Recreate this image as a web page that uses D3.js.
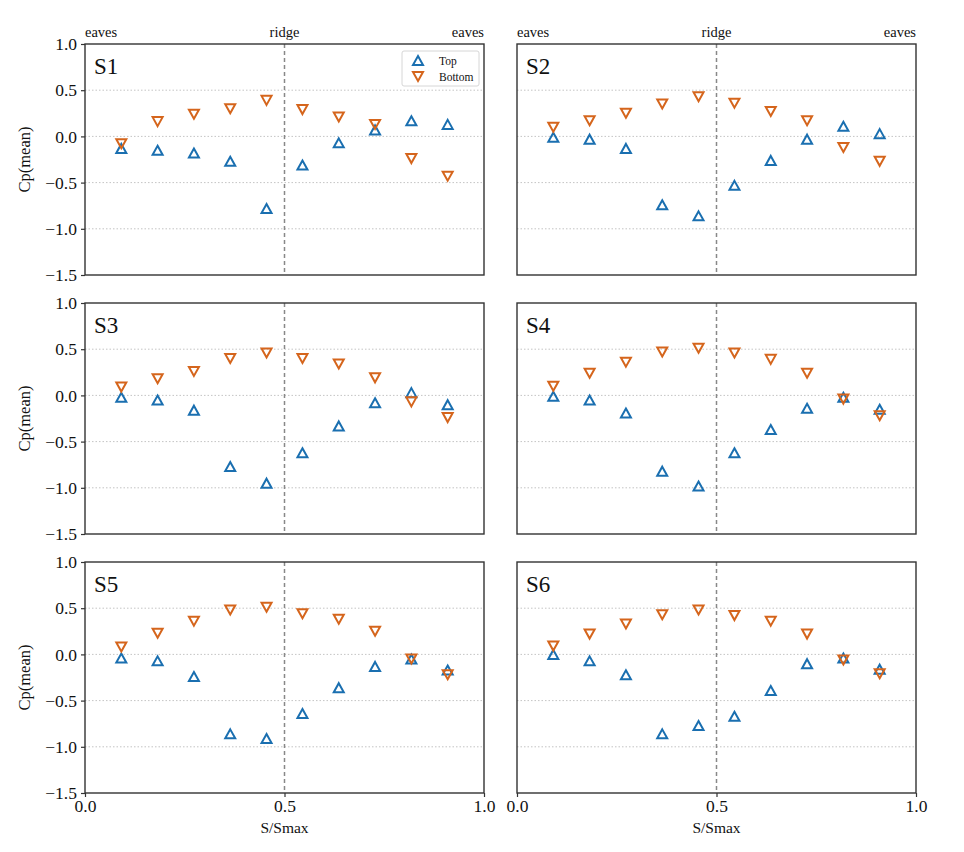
<!DOCTYPE html>
<html>
<head>
<meta charset="utf-8">
<script src="https://cdn.jsdelivr.net/npm/d3@7"></script>
<style>
  body { margin: 0; background: #fff; }
  text { font-family: "Liberation Serif", "DejaVu Serif", serif; fill: #111; }
  .tick text { font-size: 17.5px; }
</style>
</head>
<body>
<script>
// S/Smax positions of the taps
var sPos = [0.091, 0.182, 0.273, 0.364, 0.455, 0.545, 0.636, 0.727, 0.818, 0.909];

var s1Top    = [-0.13, -0.15, -0.18, -0.27, -0.78, -0.31, -0.07, 0.07, 0.17, 0.13];
var s1Bottom = [-0.08, 0.16, 0.24, 0.30, 0.39, 0.29, 0.21, 0.13, -0.24, -0.43];
var s2Top    = [-0.01, -0.03, -0.13, -0.74, -0.86, -0.53, -0.26, -0.03, 0.11, 0.03];
var s2Bottom = [0.10, 0.17, 0.25, 0.35, 0.43, 0.36, 0.27, 0.17, -0.12, -0.27];
var s3Top    = [-0.02, -0.05, -0.16, -0.77, -0.95, -0.62, -0.33, -0.08, 0.03, -0.10];
var s3Bottom = [0.09, 0.18, 0.26, 0.40, 0.46, 0.40, 0.34, 0.19, -0.07, -0.24];
var s4Top    = [-0.01, -0.05, -0.19, -0.82, -0.98, -0.62, -0.37, -0.14, -0.02, -0.15];
var s4Bottom = [0.10, 0.24, 0.36, 0.47, 0.51, 0.46, 0.39, 0.24, -0.04, -0.22];
var s5Top    = [-0.04, -0.07, -0.24, -0.86, -0.91, -0.64, -0.36, -0.13, -0.05, -0.17];
var s5Bottom = [0.08, 0.23, 0.36, 0.48, 0.51, 0.44, 0.38, 0.25, -0.05, -0.22];
var s6Top    = [0.00, -0.07, -0.22, -0.86, -0.77, -0.67, -0.39, -0.10, -0.04, -0.16];
var s6Bottom = [0.09, 0.22, 0.33, 0.43, 0.48, 0.42, 0.36, 0.22, -0.06, -0.21];

var panelNames = ["S1", "S2", "S3", "S4", "S5", "S6"];
var yTicks = [-1.5, -1.0, -0.5, 0.0, 0.5, 1.0];
var xTicks = [0.0, 0.5, 1.0];

var topColor = "#1a6fb0", bottomColor = "#d5651c";

var panels = [
  {name: panelNames[0], top: s1Top, bottom: s1Bottom},
  {name: panelNames[1], top: s2Top, bottom: s2Bottom},
  {name: panelNames[2], top: s3Top, bottom: s3Bottom},
  {name: panelNames[3], top: s4Top, bottom: s4Bottom},
  {name: panelNames[4], top: s5Top, bottom: s5Bottom},
  {name: panelNames[5], top: s6Top, bottom: s6Bottom}
];

var width = 964, height = 852;
var pw = 399, ph = 231;
var colX = [85, 517], rowY = [44, 303, 562];

var svg = d3.select("body").append("svg")
    .attr("width", width)
    .attr("height", height);

var x = d3.scaleLinear().domain([0, 1]).range([0, pw]);
var y = d3.scaleLinear().domain([-1.5, 1.0]).range([ph, 0]);

var triUp = "M0,-4.5L5,4.5L-5,4.5Z";
var triDown = "M0,4.5L5,-4.5L-5,-4.5Z";

panels.forEach(function(p, i) {
  var col = i % 2, row = Math.floor(i / 2);
  var g = svg.append("g")
      .attr("transform", "translate(" + colX[col] + "," + rowY[row] + ")");

  // dotted grid
  g.selectAll(".grid")
      .data([-1.0, -0.5, 0.0, 0.5])
      .enter().append("line")
      .attr("x1", 0).attr("x2", pw)
      .attr("y1", function(d){return y(d);})
      .attr("y2", function(d){return y(d);})
      .attr("stroke", "#c4c4c4")
      .attr("stroke-width", 1)
      .attr("stroke-dasharray", "1.5,2");

  // ridge line
  g.append("line")
      .attr("x1", x(0.5)).attr("x2", x(0.5))
      .attr("y1", 0).attr("y2", ph)
      .attr("stroke", "#888")
      .attr("stroke-width", 1.5)
      .attr("stroke-dasharray", "4,3");

  if (col == 0) {
    var ya = g.append("g")
        .call(d3.axisLeft(y).tickValues(yTicks).tickFormat(d3.format(".1f")).tickSize(4).tickPadding(4));
    ya.select(".domain").remove();
    ya.selectAll("line").attr("stroke", "#333").attr("stroke-width", 1.2);

    g.append("text")
        .attr("transform", "translate(-55," + (ph / 2) + ") rotate(-90)")
        .attr("text-anchor", "middle")
        .style("font-size", "16.5px")
        .text("Cp(mean)");
  }

  if (row == 2) {
    var xa = g.append("g")
        .attr("transform", "translate(0," + ph + ")")
        .call(d3.axisBottom(x).tickValues(xTicks).tickFormat(d3.format(".1f")).tickSize(4).tickPadding(3));
    xa.select(".domain").remove();
    xa.selectAll("line").attr("stroke", "#333").attr("stroke-width", 1.2);

    g.append("text")
        .attr("x", pw / 2).attr("y", ph + 40)
        .attr("text-anchor", "middle")
        .style("font-size", "15.5px")
        .text("S/Smax");
  }

  if (row == 0) {
    g.append("text").attr("x", 0).attr("y", -7)
        .style("font-size", "14.5px").text("eaves");
    g.append("text").attr("x", x(0.5)).attr("y", -7)
        .attr("text-anchor", "middle")
        .style("font-size", "14.5px").text("ridge");
    g.append("text").attr("x", pw).attr("y", -7)
        .attr("text-anchor", "end")
        .style("font-size", "14.5px").text("eaves");
  }

  // frame
  g.append("rect")
      .attr("width", pw).attr("height", ph)
      .attr("fill", "none")
      .attr("stroke", "#333")
      .attr("stroke-width", 1.4);

  g.append("text")
      .attr("x", 9).attr("y", 30)
      .style("font-size", "23px")
      .text(p.name);

  g.selectAll(".top")
      .data(p.top)
      .enter().append("path")
      .attr("d", triUp)
      .attr("transform", function(d, j){return "translate(" + x(sPos[j]) + "," + y(d) + ")";})
      .attr("fill", "none")
      .attr("stroke", topColor)
      .attr("stroke-width", 2);

  g.selectAll(".bottom")
      .data(p.bottom)
      .enter().append("path")
      .attr("d", triDown)
      .attr("transform", function(d, j){return "translate(" + x(sPos[j]) + "," + y(d) + ")";})
      .attr("fill", "none")
      .attr("stroke", bottomColor)
      .attr("stroke-width", 2);

  if (i == 0) {
    var lg = g.append("g").attr("transform", "translate(" + (pw - 82) + ",7)");
    lg.append("rect")
        .attr("width", 77).attr("height", 35)
        .attr("rx", 2)
        .attr("fill", "#fff")
        .attr("stroke", "#d6d6d6");
    lg.append("path").attr("d", triUp)
        .attr("transform", "translate(16,9.5)")
        .attr("fill", "none").attr("stroke", topColor).attr("stroke-width", 2);
    lg.append("path").attr("d", triDown)
        .attr("transform", "translate(16,25.5)")
        .attr("fill", "none").attr("stroke", bottomColor).attr("stroke-width", 2);
    lg.append("text").attr("x", 37).attr("y", 13.5)
        .style("font-size", "11.5px").text("Top");
    lg.append("text").attr("x", 37).attr("y", 29.5)
        .style("font-size", "11.5px").text("Bottom");
  }
});
</script>
</body>
</html>
